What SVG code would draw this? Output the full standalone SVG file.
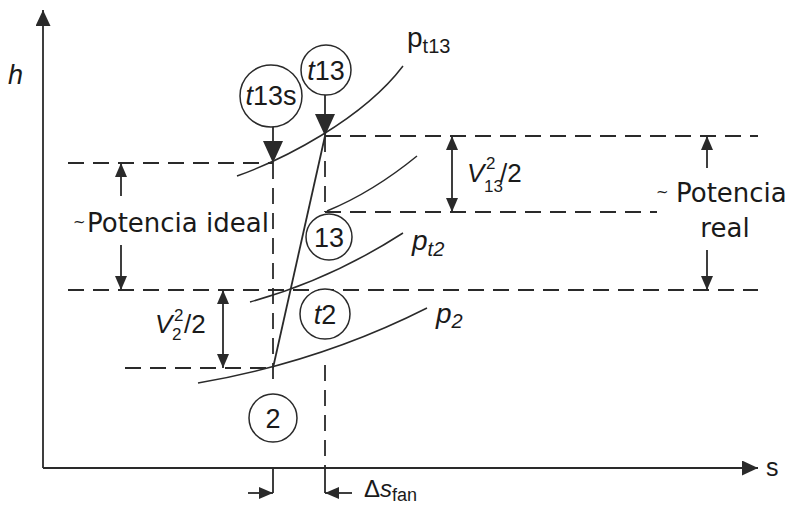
<svg xmlns="http://www.w3.org/2000/svg" width="792" height="506" viewBox="0 0 792 506">
<style>
.ln{stroke:#2a2a2a;stroke-width:1.8;fill:none}
.ds{stroke:#2a2a2a;stroke-width:1.8;fill:none;stroke-dasharray:16 9}
.cv{stroke:#2a2a2a;stroke-width:1.5;fill:none}
.nd{stroke:#2a2a2a;stroke-width:1.5;fill:#fff}
.t{font-family:"Liberation Sans",Arial,sans-serif;fill:#1a1a1a}
.v{font-family:"DejaVu Sans",Verdana,sans-serif;fill:#1a1a1a;font-size:26px}
.tl{font-family:"DejaVu Sans",Verdana,sans-serif;fill:#1a1a1a;font-size:15px}
</style>
<defs>
<marker id="ah" markerUnits="userSpaceOnUse" markerWidth="14" markerHeight="12" refX="14" refY="6" orient="auto-start-reverse"><path d="M0,0 L14,6 L0,12 z" fill="#2a2a2a"/></marker>
<marker id="big" markerUnits="userSpaceOnUse" markerWidth="22" markerHeight="20" refX="22" refY="10" orient="auto"><path d="M0,0 L22,10 L0,20 z" fill="#2a2a2a"/></marker>
<marker id="ax" markerUnits="userSpaceOnUse" markerWidth="16" markerHeight="15" refX="16" refY="7.5" orient="auto"><path d="M0,0 L16,7.5 L0,15 z" fill="#2a2a2a"/></marker>
</defs>
<rect width="792" height="506" fill="#fff"/>

<g id="axes">
<line class="ln" x1="43" y1="468" x2="43" y2="10" marker-end="url(#ax)"/>
<line class="ln" x1="43" y1="468" x2="758" y2="468" marker-end="url(#ax)"/>
<text class="t" x="8" y="84" font-size="27" font-style="italic">h</text>
<text class="t" x="766" y="476" font-size="25">s</text>
</g>

<g id="isobars">
<path class="cv" d="M237,176 C282,160 362,120 403,66"/>
<path class="cv" d="M327,211 Q373,192 417,156"/>
<path class="cv" d="M250,302 Q330,280 403,233"/>
<path class="cv" d="M198,383 Q320,362 427,308"/>
<text class="t" x="407" y="47" font-size="28">p<tspan font-size="20" dy="6">t13</tspan></text>
<text class="t" x="412" y="250" font-size="28" font-style="italic">p<tspan font-size="20" dy="6">t2</tspan></text>
<text class="t" x="436" y="323" font-size="28" font-style="italic">p<tspan font-size="20" dy="5">2</tspan></text>
</g>

<g id="connectors">
<line class="ds" x1="68" y1="163" x2="273" y2="163"/>
<line class="ds" x1="68" y1="290" x2="758" y2="290"/>
<line class="ds" x1="325" y1="136" x2="758" y2="136"/>
<line class="ds" x1="325" y1="212" x2="657" y2="212"/>
<line class="ds" x1="125" y1="368" x2="273" y2="368"/>
<line class="ds" x1="273" y1="163" x2="273" y2="388"/>
<line class="ds" x1="325" y1="136" x2="325" y2="212"/>
<line class="ds" x1="325" y1="365" x2="325" y2="468"/>
<line class="ln" x1="325" y1="136" x2="273" y2="368"/>
<line class="ln" x1="273" y1="127" x2="273" y2="163" marker-end="url(#big)"/>
<line class="ln" x1="325" y1="95" x2="325" y2="136" marker-end="url(#big)"/>
<line class="ln" x1="121" y1="196" x2="121" y2="163" marker-end="url(#ah)"/>
<line class="ln" x1="121" y1="245" x2="121" y2="290" marker-end="url(#ah)"/>
<line class="ln" x1="707" y1="168" x2="707" y2="136" marker-end="url(#ah)"/>
<line class="ln" x1="707" y1="250" x2="707" y2="290" marker-end="url(#ah)"/>
<line class="ln" x1="452" y1="136" x2="452" y2="212" marker-start="url(#ah)" marker-end="url(#ah)"/>
<line class="ln" x1="223" y1="290" x2="223" y2="368" marker-start="url(#ah)" marker-end="url(#ah)"/>
<polyline class="ln" points="273,468 273,493"/>
<line class="ln" x1="248" y1="493" x2="273" y2="493" marker-end="url(#ah)"/>
<polyline class="ln" points="325,468 325,493"/>
<line class="ln" x1="352" y1="493" x2="325" y2="493" marker-end="url(#ah)"/>
</g>

<g id="labels">
<text class="tl" x="73" y="227">~</text>
<text class="v" x="87" y="232">Potencia ideal</text>
<text class="tl" x="656" y="197">~</text>
<text class="v" x="676" y="202">Potencia</text>
<text class="v" x="725" y="237" text-anchor="middle">real</text>
<text class="t" x="467" y="182" font-size="26" font-style="italic">V</text>
<text class="t" x="486" y="169" font-size="17">2</text>
<text class="t" x="484" y="192" font-size="17">13</text>
<text class="t" x="500" y="182" font-size="26">/2</text>
<text class="t" x="155" y="333" font-size="26" font-style="italic">V</text>
<text class="t" x="174" y="321" font-size="17">2</text>
<text class="t" x="172" y="340" font-size="17">2</text>
<text class="t" x="184" y="333" font-size="26">/2</text>
<text class="t" x="364" y="497" font-size="24">Δ<tspan font-style="italic">s</tspan><tspan font-size="18" dy="4">fan</tspan></text>
</g>

<g id="node-t13s">
<circle class="nd" cx="271" cy="96" r="31"/>
<text class="t" x="271" y="105" font-size="27" text-anchor="middle"><tspan font-style="italic">t</tspan>13s</text>
</g>
<g id="node-t13">
<circle class="nd" cx="326" cy="70" r="25"/>
<text class="t" x="326" y="80" font-size="27" text-anchor="middle"><tspan font-style="italic">t</tspan>13</text>
</g>
<g id="node-13">
<circle class="nd" cx="329" cy="237" r="23"/>
<text class="t" x="329" y="247" font-size="27" text-anchor="middle">13</text>
</g>
<g id="node-t2">
<circle class="nd" cx="325" cy="314" r="25"/>
<text class="t" x="325" y="324" font-size="27" text-anchor="middle"><tspan font-style="italic">t</tspan>2</text>
</g>
<g id="node-2">
<circle class="nd" cx="273" cy="418" r="24"/>
<text class="t" x="273" y="428" font-size="27" text-anchor="middle">2</text>
</g>
</svg>
